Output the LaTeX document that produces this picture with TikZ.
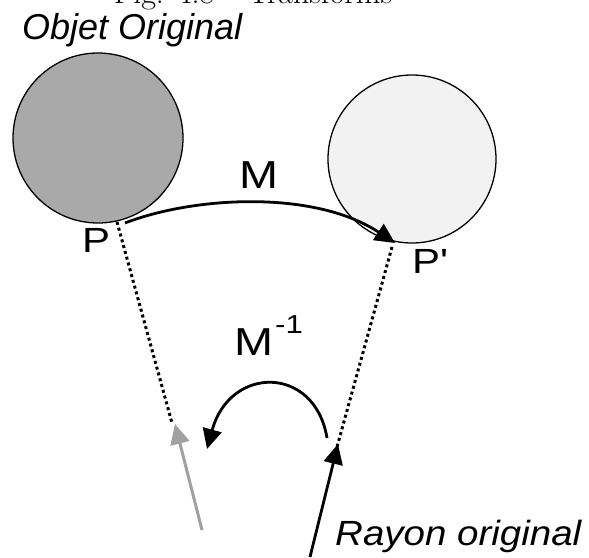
\documentclass[tikz,border=0pt]{standalone}
\usepackage{fontspec}
\setmainfont{Latin Modern Roman}
\newfontfamily\arialf{Liberation Sans}
\newfontfamily\arialw[FakeStretch=1.1]{Liberation Sans}
\newfontfamily\arialv[FakeStretch=1.2]{Liberation Sans}
\usetikzlibrary{arrows.meta}
\definecolor{objgray}{RGB}{169,169,169}
\definecolor{imglight}{RGB}{242,242,242}
\definecolor{raygray}{RGB}{160,160,160}
\begin{document}
\begin{tikzpicture}[x=1pt,y=-1pt,
  lbl/.style={font=\arialv\fontsize{35}{40}\selectfont,inner sep=0pt},
  mlbl/.style={font=\arialv\fontsize{39}{44}\selectfont,inner sep=0pt},
  ilbl/.style={font=\arialf\itshape\fontsize{36}{40}\selectfont,inner sep=0pt},
  tip/.style={-{Triangle[length=20pt,width=19pt]}},
  thick3/.style={line width=2.8pt},
  dots/.style={line width=3pt,dash pattern=on 3pt off 3pt,draw=black}]
\useasboundingbox (0,0) rectangle (589,557);
\clip (0,0) rectangle (589,557);
% caption (cut off at the top edge)
\node[anchor=base,inner sep=0pt,font=\fontsize{32}{36}\selectfont] (cap) at (253,3.5) {\textsc{Fig. 4.8} -- Transforms};
\node[ilbl,anchor=base west] (title) at (22,39) {Objet Original};
% circles
\node[circle,draw=black,line width=1.3pt,fill=objgray,minimum size=170pt,inner sep=0pt] (obj) at (98,138) {};
\node[circle,draw=black,line width=1.3pt,fill=imglight,minimum size=168pt,inner sep=0pt] (img) at (412,159) {};
% points
\coordinate (p) at (117,222);
\coordinate (pp) at (395,243);
\node[lbl,anchor=base west] (plbl) at (82,252) {P};
\node[lbl,anchor=base west] (pplbl) at (412,273) {P'};
% M arrow
\coordinate (ms) at (125,223);
\draw[thick3,tip] (ms) .. controls (195,196) and (315,190) .. (pp);
\node[mlbl,anchor=base west] (mtop) at (239,188) {M};
% dotted lines
\coordinate (g) at (172,423);
\coordinate (r) at (337,447);
\coordinate (ps) at (392,247);
\draw[dots] (p) -- (g);
\draw[dots] (ps) -- (r);
% grey arrow
\coordinate (gs) at (202,530);
\coordinate (gt) at (175,424);
\draw[line width=3pt,draw=raygray,fill=raygray,tip] (gs) -- (gt);
% ray
\coordinate (rs) at (310,557);
\coordinate (rt) at (338,444);
\draw[thick3,tip] (rs) -- (rt);
% M^-1 arrow
\coordinate (ma) at (327,438);
\coordinate (mb) at (207,449);
\draw[thick3,tip] (ma) .. controls (315,365) and (230,365) .. (mb);
\node[mlbl,anchor=base west] (minv) at (234,355) {M\kern2pt\raisebox{22pt}{\fontsize{26}{28}\selectfont -1}};
\node[ilbl,anchor=base west,font=\arialw\itshape\fontsize{35}{40}\selectfont] (ray) at (335,545) {Rayon original};
\end{tikzpicture}
\end{document}
